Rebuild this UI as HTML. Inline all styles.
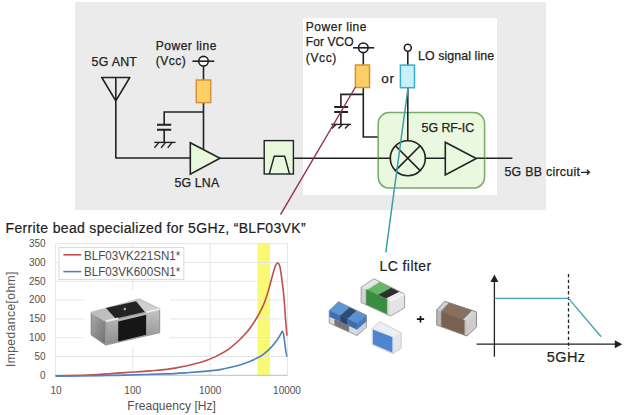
<!DOCTYPE html>
<html><head><meta charset="utf-8">
<style>
html,body{margin:0;padding:0;background:#fff;width:626px;height:415px;overflow:hidden}
svg{display:block;font-family:"Liberation Sans",sans-serif}
</style></head>
<body>
<svg width="626" height="415" viewBox="0 0 626 415">
<!-- backgrounds -->
<rect x="75" y="2" width="471" height="208" fill="#ebebeb"/>
<rect x="303" y="18" width="194" height="177" fill="#ffffff"/>

<g fill="#222" stroke="#222" stroke-width="0.25" font-size="12.4">
  <text x="91.6" y="65.7" textLength="45.3">5G ANT</text>
  <text x="155.8" y="50" font-size="12" textLength="60.6">Power line</text>
  <text x="155.8" y="65" font-size="12" textLength="29.9">(Vcc)</text>
  <text x="174.5" y="186.9" textLength="44.7">5G LNA</text>
  <text x="305.8" y="30.8" font-size="12" textLength="60.7">Power line</text>
  <text x="305.8" y="46.2" font-size="12" textLength="47.9">For VCO</text>
  <text x="305.8" y="62.2" font-size="12" textLength="30.5">(Vcc)</text>
  <text x="381.3" y="83" font-size="13.5" textLength="12.8">or</text>
  <text x="418" y="59.6" textLength="76.1">LO signal line</text>
  <text x="504.4" y="175.7" textLength="75.5">5G BB circuit</text>
</g>

<!-- circuit lines -->
<g stroke="#222" stroke-width="1.6" fill="none">
  <!-- antenna -->
  <path d="M101.8 77.5 H129.8 L115.8 100.8 Z M115.8 77.5 V158 H190.3" stroke-linejoin="round"/>
  <!-- LNA power -->
  <circle cx="203.5" cy="61.2" r="4.8" fill="#fff"/>
  <path d="M192.4 61.2 H214.2"/>
  <path d="M203.5 66 V80 M203.5 102.5 V149.3"/>
  <path d="M203.5 112 H164.2 V124.7 M164.2 129.8 V142.4"/>
  <path d="M157 124.7 H171.2 M157 129.8 H171.2" stroke-width="2"/>
  <path d="M154.3 142.4 H175.5" stroke-width="1.4"/>
  <path d="M159 142.4 L154.5 147.8 M165.6 142.4 L161.1 147.8 M172.2 142.4 L167.7 147.8" stroke-width="1.4"/>
  <!-- signal line -->
  <path d="M220 158.2 H264.2 M293.4 158.2 H390 M426 158.2 H445.3 M476.3 158.2 H512.4"/>
  <!-- VCO power -->
  <circle cx="363.3" cy="47.8" r="4.8" fill="#fff"/>
  <path d="M353 47.8 H374.2"/>
  <path d="M363.3 52.6 V65 M363.3 87.5 V137 H378.2 M363.3 94.4 H340.9 V107 M340.9 112 V124.4"/>
  <path d="M334.2 107 H348.1 M334.2 112 H348.1" stroke-width="2"/>
  <path d="M331.3 124.4 H351" stroke-width="1.4"/>
  <path d="M335.8 124.4 L331.8 128.6 M342.4 124.4 L338.4 128.6 M349 124.4 L345 128.6" stroke-width="1.4"/>
  <!-- LO -->
  <circle cx="407.8" cy="47.7" r="3.5"/>
  <path d="M407.8 51.2 V65 M407.8 87.7 V140.7"/>
</g>

<!-- LNA triangle -->
<path d="M190.3 142.8 L220 158.3 L190.3 174.2 Z" fill="#e7f8dc" stroke="#222" stroke-width="1.6"/>
<!-- filter box -->
<rect x="264.2" y="140.6" width="29.2" height="33.4" fill="#e7f8dc" stroke="#222" stroke-width="1.4"/>
<path d="M269.3 174 L274.2 156.2 H284.7 L289.5 174" fill="none" stroke="#222" stroke-width="1.4"/>

<!-- resistors -->
<rect x="196.3" y="80" width="14.4" height="22.6" fill="#fdd066" stroke="#d8903a" stroke-width="1.5"/>
<rect x="355.4" y="65" width="14.1" height="22.5" fill="#fdd066" stroke="#d8903a" stroke-width="1.5"/>
<rect x="400.4" y="65.1" width="14.1" height="22.6" fill="#c8f1fa" stroke="#36afcc" stroke-width="1.5"/>

<!-- RF-IC -->
<rect x="378.2" y="112.6" width="106.4" height="75.5" rx="11" fill="#e9f8de" stroke="#78aa68" stroke-width="1.5"/>
<g stroke="#222" stroke-width="1.6" fill="none">
  <path d="M378.2 158.2 H390.3 M425.3 158.2 H445.3 M476.3 158.2 H484.6 M407.8 112 V140.7"/>
  <circle cx="407.8" cy="158.2" r="17.5"/>
  <path d="M395.4 145.8 L420.2 170.6 M420.2 145.8 L395.4 170.6"/>
  <path d="M445.3 142.3 L476.3 158.5 L445.3 174.9 Z"/>
</g>
<text x="421.6" y="132.1" font-size="12.4" fill="#222" stroke="#222" stroke-width="0.25" textLength="52.6">5G RF-IC</text>

<!-- leader lines -->
<path d="M355.5 87 L280.5 214.7" stroke="#962f47" stroke-width="1.4" fill="none"/>
<path d="M408 88 L385.8 252.4" stroke="#3a9fac" stroke-width="1.5" fill="none"/>

<!-- Title -->
<text x="5.6" y="232.5" font-size="14" fill="#222" stroke="#222" stroke-width="0.2" textLength="300">Ferrite bead specialized for 5GHz, “BLF03VK”</text>

<!-- CHART -->
<g>
  <rect x="257.5" y="243.7" width="12.5" height="131.6" fill="#fafa72"/>
  <g stroke="#e6e6e6" stroke-width="1" fill="none">
    <path d="M55.5 243.7 H287.5 M55.5 262.5 H287.5 M55.5 281.3 H287.5 M55.5 300.1 H287.5 M55.5 318.9 H287.5 M55.5 337.7 H287.5 M55.5 356.5 H287.5"/>
    <path d="M55.5 243.7 V375.3 M132.8 243.7 V375.3 M210 243.7 V375.3 M287.5 243.7 V375.3"/>
  </g>
  <path d="M55.5 375.3 H287.5" stroke="#bfbfbf" stroke-width="1"/>
  <!-- legend -->
  <rect x="59" y="247.4" width="124.8" height="32" fill="#fff" stroke="#d9d9d9" stroke-width="1"/>
  <path d="M63.4 254.8 H81.3" stroke="#c0504d" stroke-width="1.6"/>
  <path d="M63.4 271.6 H81.3" stroke="#4f81bd" stroke-width="1.6"/>
  <g fill="#4a4a4a" font-size="12.3">
    <text x="84" y="259.7" textLength="96.3" lengthAdjust="spacingAndGlyphs">BLF03VK221SN1*</text>
    <text x="84" y="276.2" textLength="96.3" lengthAdjust="spacingAndGlyphs">BLF03VK600SN1*</text>
  </g>
  <!-- curves -->
  <path d="M55.5 375.7 C59.6 375.6 72.6 375.4 80.0 375.2 C87.4 375.0 92.5 374.7 100.0 374.3 C107.5 373.9 116.7 373.2 125.0 372.6 C133.3 372.0 141.7 371.6 150.0 370.9 C158.3 370.1 166.7 369.5 175.0 368.1 C183.3 366.7 193.3 364.4 200.0 362.5 C206.7 360.6 210.0 359.3 215.0 356.9 C220.0 354.5 225.0 352.0 230.0 348.2 C235.0 344.4 240.8 338.9 245.0 334.3 C249.2 329.7 252.2 325.1 255.0 320.7 C257.8 316.3 260.2 311.9 262.0 308.1 C263.8 304.4 264.8 301.8 266.0 298.2 C267.2 294.6 268.5 290.2 269.5 286.6 C270.5 283.0 271.3 279.7 272.2 276.5 C273.1 273.3 274.0 269.6 274.8 267.4 C275.6 265.2 276.4 263.5 277.2 263.2 C278.0 262.9 278.8 263.0 279.6 265.6 C280.4 268.2 281.1 273.5 281.8 278.9 C282.5 284.3 283.4 291.4 284.0 297.8 C284.6 304.2 284.9 310.9 285.4 317.2 C285.9 323.5 286.6 332.5 286.9 335.6" fill="none" stroke="#c0504d" stroke-width="1.6"/>
  <path d="M55.5 376.1 C62.9 376.0 88.4 375.8 100.0 375.6 C111.6 375.4 114.2 375.4 125.0 375.1 C135.8 374.8 154.2 374.3 165.0 373.9 C175.8 373.5 183.4 372.9 190.0 372.5 C196.6 372.1 199.5 371.9 204.5 371.4 C209.5 370.9 215.4 370.3 220.0 369.6 C224.6 368.9 228.2 367.9 232.0 367.0 C235.8 366.1 239.9 365.0 243.0 364.0 C246.1 363.0 248.1 362.1 250.3 361.2 C252.5 360.3 253.9 359.6 256.0 358.5 C258.1 357.4 260.3 356.5 262.7 354.8 C265.1 353.1 268.1 350.4 270.4 348.1 C272.6 345.9 274.6 343.4 276.2 341.3 C277.8 339.2 279.0 337.0 280.0 335.4 C281.0 333.8 281.7 331.4 282.3 331.4 C282.9 331.4 283.3 332.8 283.8 335.6 C284.3 338.4 284.9 344.6 285.4 348.1 C285.9 351.6 286.6 355.3 286.9 356.7" fill="none" stroke="#4f81bd" stroke-width="1.6"/>
  <!-- axis labels -->
  <g fill="#505050" font-size="10" text-anchor="end">
    <text x="45.6" y="247">350</text>
    <text x="45.6" y="265.8">300</text>
    <text x="45.6" y="284.6">250</text>
    <text x="45.6" y="303.4">200</text>
    <text x="45.6" y="322.2">150</text>
    <text x="45.6" y="341">100</text>
    <text x="45.6" y="359.8">50</text>
    <text x="45.6" y="378.6">0</text>
  </g>
  <g fill="#505050" font-size="10" text-anchor="middle">
    <text x="56" y="393.8">10</text>
    <text x="132.7" y="393.8">100</text>
    <text x="210.2" y="393.8">1000</text>
    <text x="287" y="393.8">10000</text>
  </g>
  <text x="127.3" y="409.9" font-size="12" fill="#505050" textLength="88.6">Freaquency [Hz]</text>
  <text transform="translate(15.4 367) rotate(-90)" font-size="12" fill="#5a5a5a" textLength="95.4">Impedance[ohm]</text>
</g>

<!-- ferrite bead chip -->
<rect x="83.5" y="290" width="86" height="57" fill="#fff"/>
<defs>
  <linearGradient id="bl" x1="0" y1="0" x2="1" y2="1"><stop offset="0" stop-color="#a9a9a9"/><stop offset="1" stop-color="#6e6e6e"/></linearGradient>
  <linearGradient id="bf" x1="0" y1="0" x2="0" y2="1"><stop offset="0" stop-color="#c4c4c4"/><stop offset="1" stop-color="#8c8c8c"/></linearGradient>
  <linearGradient id="bt" x1="0" y1="0" x2="1" y2="0"><stop offset="0" stop-color="#b9b9b9"/><stop offset="1" stop-color="#d4d4d4"/></linearGradient>
</defs>
<g stroke-linejoin="round">
  <polygon points="91.3,312.4 105.9,321.4 105.9,344.9 91.3,334.8" fill="url(#bl)" stroke="#8a8a8a" stroke-width="1.2"/>
  <polygon points="91.3,312.4 139.4,299 159.6,309.1 105.9,321.4" fill="url(#bt)" stroke="#c0c0c0" stroke-width="1.2"/>
  <polygon points="105.9,308 136.1,301.3 146.1,313.6 118.2,321.4" fill="#232323"/>
  <polygon points="105.9,321.4 159.6,309.1 159.6,332.6 105.9,344.9" fill="url(#bf)" stroke="#9c9c9c" stroke-width="1.2"/>
  <polygon points="118.2,321.4 146.1,314.7 146.1,334.8 118.2,341.5" fill="#161616"/>
  <path d="M105.9 321.2 L118.2 318.6 M146.1 312.2 L159.6 309.1" stroke="#ececec" stroke-width="2"/>
  <circle cx="124.9" cy="309.1" r="1.3" fill="#a8a8a8"/>
</g>

<!-- LC filter -->
<text x="379.4" y="270.7" font-size="14" fill="#222" stroke="#222" stroke-width="0.2" textLength="51.8">LC filter</text>
<!-- green chip -->
<g stroke-linejoin="round">
<polygon points="373.9,278.8 380.0,281.9 367.1,289.9 361.2,287.2" fill="#e6e6e6" stroke="#e6e6e6" stroke-width="0.5"/>
<polygon points="380.0,281.9 391.7,287.7 378.2,295.1 367.1,289.9" fill="#64b864" stroke="#64b864" stroke-width="0.5"/>
<polygon points="391.7,287.7 400.0,291.8 386.1,298.8 378.2,295.1" fill="#2e2e2e" stroke="#2e2e2e" stroke-width="0.5"/>
<polygon points="400.0,291.8 404.6,294.1 390.5,300.8 386.1,298.8" fill="#ececec" stroke="#ececec" stroke-width="0.5"/>
<polygon points="361.2,287.2 366.2,289.5 366.2,304.8 361.2,302.5" fill="#d2d2d2" stroke="#d2d2d2" stroke-width="0.5"/>
<polygon points="366.2,289.5 387.6,299.4 387.6,314.6 366.2,304.8" fill="#3a8c40" stroke="#3a8c40" stroke-width="0.5"/>
<polygon points="387.6,299.4 390.5,300.8 390.5,316.0 387.6,314.6" fill="#dadada" stroke="#dadada" stroke-width="0.5"/>
<polygon points="390.5,300.8 404.6,294.1 404.6,307.8 390.5,316.0" fill="#e4e4e4" stroke="#e4e4e4" stroke-width="0.5"/>
<polygon points="361.2,287.2 373.9,278.8 404.6,294.1 404.6,307.8 390.5,316.0 361.2,302.5" fill="none" stroke="#9a9a9a" stroke-width="0.9"/>
<path d="M390.5 300.8 L404.6 294.1" stroke="#f6f6f6" stroke-width="1.4"/>
</g>
<!-- blue inductor -->
<g stroke-linejoin="round">
<polygon points="338.5,301.8 349.7,307.2 340.4,315.7 329.3,310.5" fill="#5f95d4" stroke="#5f95d4" stroke-width="0.5"/>
<polygon points="349.7,307.2 356.9,310.7 347.6,319.1 340.4,315.7" fill="#2f4c74" stroke="#2f4c74" stroke-width="0.5"/>
<polygon points="356.9,310.7 366.4,315.3 357.0,323.5 347.6,319.1" fill="#5b91d2" stroke="#5b91d2" stroke-width="0.5"/>
<polygon points="329.3,310.5 340.4,315.7 340.4,322.2 329.3,317.0" fill="#3e70b0" stroke="#3e70b0" stroke-width="0.5"/>
<polygon points="340.4,315.7 347.6,319.1 347.6,325.6 340.4,322.2" fill="#2a466c" stroke="#2a466c" stroke-width="0.5"/>
<polygon points="347.6,319.1 357.0,323.5 357.0,330.0 347.6,325.6" fill="#3c6dac" stroke="#3c6dac" stroke-width="0.5"/>
<polygon points="357.0,323.5 366.4,315.3 366.4,321.8 357.0,330.0" fill="#4778bb" stroke="#4778bb" stroke-width="0.5"/>
<polygon points="329.3,317.0 357.0,330.0 357.0,335.5 329.3,323.0" fill="#d6dadf" stroke="#d6dadf" stroke-width="0.5"/>
<polygon points="334.8,319.6 348.7,326.1 348.7,331.8 334.8,325.5" fill="#6f7176" stroke="#6f7176" stroke-width="0.5"/>
<path d="M337.6 321.9 v4.5" stroke="#9a7a66" stroke-width="1.2"/>
<path d="M341.8 323.9 v4.5" stroke="#9a7a66" stroke-width="1.2"/>
<path d="M345.9 325.8 v4.5" stroke="#9a7a66" stroke-width="1.2"/>
<polygon points="357.0,330.0 366.4,321.8 366.4,327.3 357.0,335.5" fill="#cfd3d8" stroke="#cfd3d8" stroke-width="0.5"/>
<polygon points="329.3,310.5 338.5,301.8 366.4,315.3 366.4,327.3 357.0,335.5 329.3,323.0" fill="none" stroke="#8a9099" stroke-width="0.8"/>
</g>
<!-- blue white chip -->
<g stroke-linejoin="round">
<polygon points="372.3,328.6 379.5,321.3 401.2,332.9 393.0,336.8" fill="#eceef2" stroke="#eceef2" stroke-width="0.5"/>
<polygon points="393.0,336.8 401.2,332.9 401.2,348.3 393.0,353.5" fill="#e3e6ea" stroke="#e3e6ea" stroke-width="0.5"/>
<polygon points="372.3,328.6 393.0,336.8 393.0,353.5 372.3,344.5" fill="#5084d0" stroke="#dfe6f0" stroke-width="1.2"/>
<polygon points="372.3,328.6 379.5,321.3 401.2,332.9 401.2,348.3 393.0,353.5 372.3,344.5" fill="none" stroke="#c4c8ce" stroke-width="0.8"/>
</g>
<path d="M416.9 319.2 H424.1 M420.5 316 V322.6" stroke="#111" stroke-width="1.7"/>
<!-- brown cap -->
<g stroke-linejoin="round">
<polygon points="444.7,301.3 449.2,302.8 441.0,311.4 436.8,309.8" fill="#cfcfcf" stroke="#cfcfcf" stroke-width="0.5"/>
<polygon points="449.2,302.8 472.4,310.5 463.1,319.9 441.0,311.4" fill="#87705f" stroke="#87705f" stroke-width="0.5"/>
<polygon points="472.4,310.5 476.5,311.9 467.0,321.4 463.1,319.9" fill="#d4d4d4" stroke="#d4d4d4" stroke-width="0.5"/>
<polygon points="436.8,309.8 441.3,311.5 441.3,326.6 436.8,325.0" fill="#b9b9b9" stroke="#b9b9b9" stroke-width="0.5"/>
<polygon points="441.3,311.5 464.9,320.6 464.9,335.2 441.3,326.6" fill="#78614f" stroke="#78614f" stroke-width="0.5"/>
<polygon points="464.9,320.6 467.0,321.4 467.0,336.0 464.9,335.2" fill="#c2c2c2" stroke="#c2c2c2" stroke-width="0.5"/>
<polygon points="467.0,321.4 476.5,311.9 476.5,327.0 467.0,336.0" fill="#cdcdcd" stroke="#cdcdcd" stroke-width="0.5"/>
<polygon points="436.8,309.8 444.7,301.3 476.5,311.9 476.5,327.0 467.0,336.0 436.8,325.0" fill="none" stroke="#858585" stroke-width="0.9"/>
</g>

<path d="M581 172.3 H589.2 M586.8 169.8 L589.5 172.3 L586.8 174.8" fill="none" stroke="#222" stroke-width="1.2"/>
<!-- response graph -->
<g stroke="#222" stroke-width="1.3" fill="none">
  <path d="M494.4 281 V356.7"/>
  <path d="M476.6 344.2 H615.5"/>
  <path d="M568.5 274 V348.7" stroke-dasharray="3.3 2.4"/>
</g>
<path d="M494.4 274.6 L490.4 282 H498.4 Z" fill="#222"/>
<path d="M622.3 344.2 L614.8 340.2 V348.2 Z" fill="#222"/>
<path d="M494.4 298.4 H568.5 L601.1 336.8" fill="none" stroke="#42a5b3" stroke-width="1.4"/>
<text x="546.8" y="362" font-size="14.5" fill="#222" stroke="#222" stroke-width="0.2" textLength="38.2">5GHz</text>
</svg>
</body></html>
